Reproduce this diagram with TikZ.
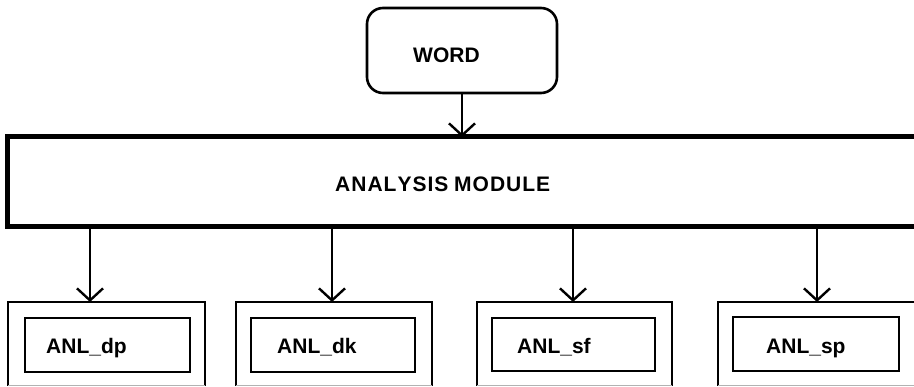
\documentclass[tikz,border=0pt]{standalone}
\usepackage{fontspec}
\setmainfont{Liberation Sans}
\usetikzlibrary{arrows.meta}
\begin{document}
\begin{tikzpicture}[x=1pt,y=-1pt,
  lbl/.style={font=\fontsize{21}{25}\selectfont\bfseries, inner sep=0pt, anchor=base west},
  box/.style={draw, line width=2.6pt, inner sep=0pt},
  conn/.style={line width=2pt, -{Straight Barb[length=12pt,width=26pt,line width=2.4pt]}}]
\useasboundingbox (0,0) rectangle (914,387);
\clip (0,0) rectangle (914,387);
% WORD
\draw[line width=2.6pt, rounded corners=16pt] (367,8) rectangle (557,93);
\coordinate (wordS) at (462,93);
\node[lbl] (word) at (413,63) {WORD};
% analysis module
\draw[line width=5pt] (930,137) -- (7.5,137) -- (7.5,227) -- (930,227);
\coordinate (anaN) at (462,137);
\coordinate (anaS) at (462,227);
\node[lbl] (ana) at (335,192) {A\kern1ptN\kern1ptA\kern1ptL\kern1ptY\kern1ptS\kern1ptI\kern1ptS M\kern1ptO\kern1ptD\kern1ptU\kern1ptL\kern1ptE};
\draw[conn] (wordS) -- (anaN);
% outer boxes
\draw[line width=2.6pt] (8,386) -- (8,302) -- (205,302) -- (205,386);
\draw[line width=2.6pt] (236,386) -- (236,302) -- (432,302) -- (432,386);
\draw[line width=2.6pt] (477,386) -- (477,302) -- (672,302) -- (672,386);
\draw[line width=2.6pt] (718,386) -- (718,302) -- (930,302);
\draw[gray!60, line width=1pt] (8,386) -- (205,386) (236,386) -- (432,386) (477,386) -- (672,386) (718,386) -- (914,386);
\coordinate (o1) at (90,302);
\coordinate (o2) at (332,302);
\coordinate (o3) at (573,302);
\coordinate (o4) at (817,302);
% inner boxes
\draw[line width=2.6pt] (25,318) rectangle (190,372);
\draw[line width=2.6pt] (251,318) rectangle (415,372);
\draw[line width=2.6pt] (492,318) rectangle (655,371);
\draw[line width=2.6pt] (733,317) rectangle (899,371);
\node[lbl] (l1) at (46,354) {ANL\_dp};
\node[lbl] (l2) at (277,354) {ANL\_dk};
\node[lbl] (l3) at (517,354) {ANL\_sf};
\node[lbl] (l4) at (766,354) {ANL\_sp};
% connectors
\foreach \t in {o1,o2,o3,o4}
  \draw[conn] (anaS -| \t) -- (\t);
\end{tikzpicture}
\end{document}
